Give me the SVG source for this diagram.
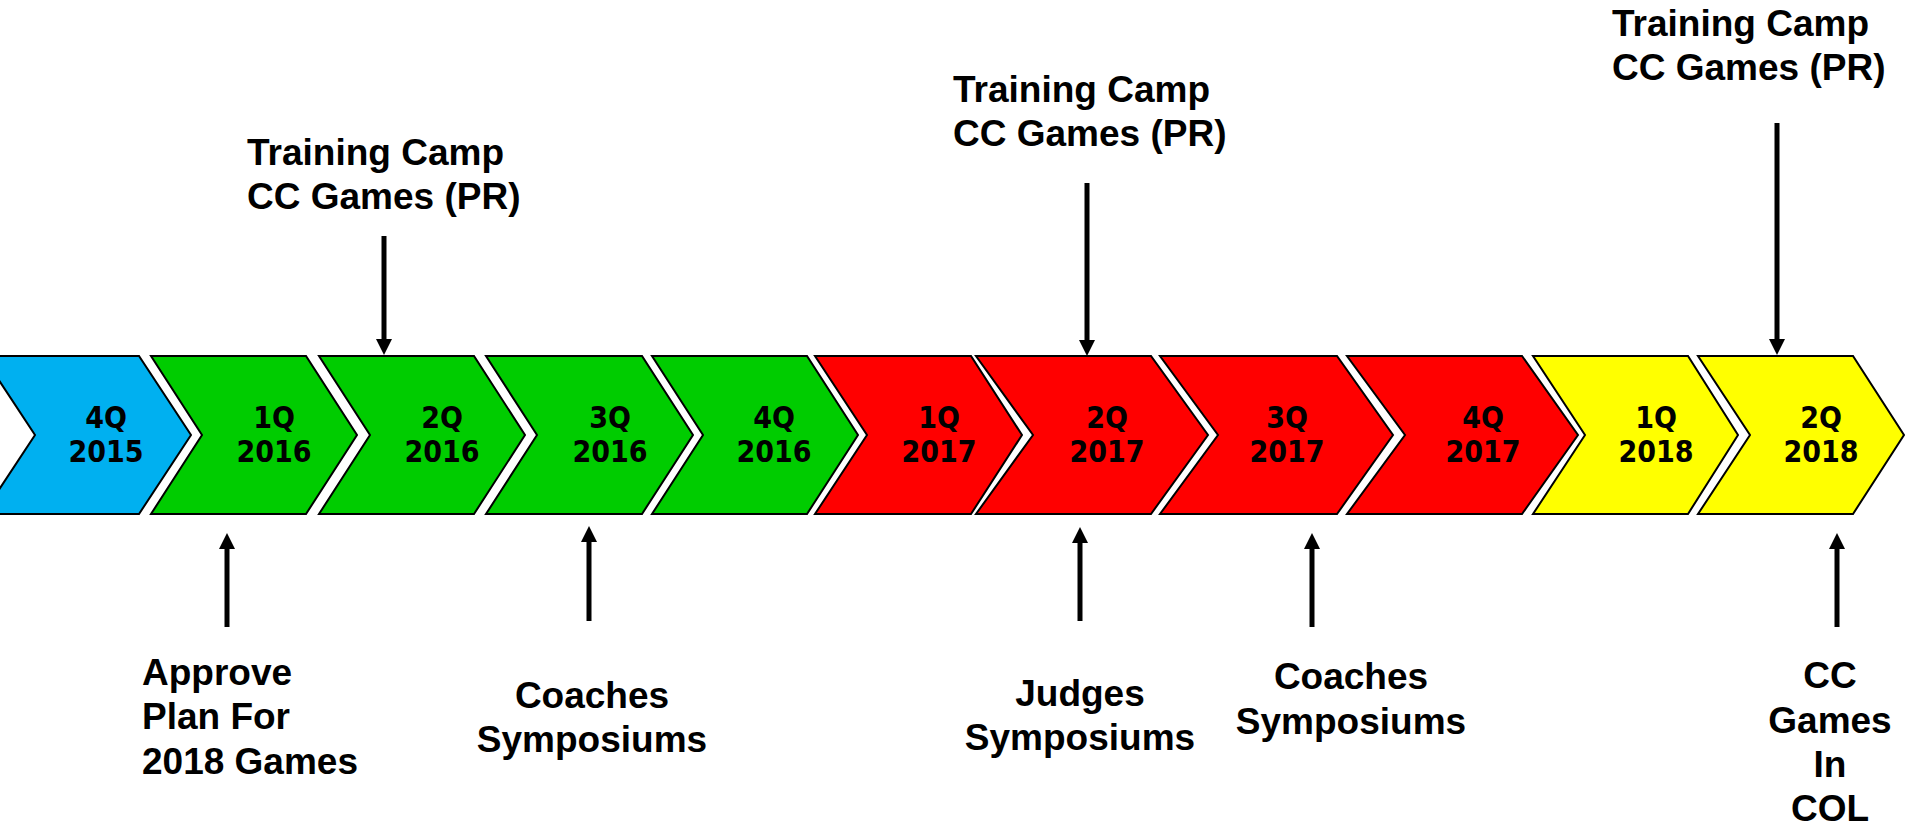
<svg xmlns="http://www.w3.org/2000/svg" width="1911" height="829" viewBox="0 0 1911 829">
<style>
.chev{stroke:#000;stroke-width:2;stroke-linejoin:miter}
.blue{fill:#00B0F0}.green{fill:#00CC00}.red{fill:#FF0000}.yellow{fill:#FFFF00}
.q{font-family:'DejaVu Sans Condensed','DejaVu Sans',sans-serif;font-stretch:condensed;font-weight:bold;font-size:30px;fill:#000;text-anchor:middle}
.lbl{font-family:'Liberation Sans',Arial,sans-serif;font-weight:bold;font-size:37px;fill:#000}
.mid{text-anchor:middle}
.arr{stroke:#000;stroke-width:5;fill:none;marker-end:url(#ah)}
</style>
<defs>
<marker id="ah" markerUnits="userSpaceOnUse" markerWidth="16" markerHeight="16" refX="6" refY="8" orient="auto">
<path d="M0,0 L16,8 L0,16 Z" fill="#000"/>
</marker>
</defs>
<rect width="1911" height="829" fill="#fff"/>
<g id="q4-2015"><polygon class="chev blue" points="-17,356 139,356 191,435 139,514 -17,514 35,435"/><text class="q" x="106" y="428">4Q</text><text class="q" x="106" y="462">2015</text></g>
<g id="q1-2016"><polygon class="chev green" points="151,356 306,356 357,435 306,514 151,514 202,435"/><text class="q" x="274" y="428">1Q</text><text class="q" x="274" y="462">2016</text></g>
<g id="q2-2016"><polygon class="chev green" points="319,356 474,356 525,435 474,514 319,514 370,435"/><text class="q" x="442" y="428">2Q</text><text class="q" x="442" y="462">2016</text></g>
<g id="q3-2016"><polygon class="chev green" points="486,356 642,356 693,435 642,514 486,514 537,435"/><text class="q" x="610" y="428">3Q</text><text class="q" x="610" y="462">2016</text></g>
<g id="q4-2016"><polygon class="chev green" points="652,356 807,356 858,435 807,514 652,514 703,435"/><text class="q" x="774" y="428">4Q</text><text class="q" x="774" y="462">2016</text></g>
<g id="q1-2017"><polygon class="chev red" points="815,356 971,356 1022,435 971,514 815,514 867,435"/><text class="q" x="939" y="428">1Q</text><text class="q" x="939" y="462">2017</text></g>
<g id="q2-2017"><polygon class="chev red" points="976,356 1151,356 1208,435 1151,514 976,514 1033,435"/><text class="q" x="1107" y="428">2Q</text><text class="q" x="1107" y="462">2017</text></g>
<g id="q3-2017"><polygon class="chev red" points="1160,356 1337,356 1393,435 1337,514 1160,514 1218,435"/><text class="q" x="1287" y="428">3Q</text><text class="q" x="1287" y="462">2017</text></g>
<g id="q4-2017"><polygon class="chev red" points="1347,356 1522,356 1578,435 1522,514 1347,514 1405,435"/><text class="q" x="1483" y="428">4Q</text><text class="q" x="1483" y="462">2017</text></g>
<g id="q1-2018"><polygon class="chev yellow" points="1533,356 1688,356 1738,435 1688,514 1533,514 1585,435"/><text class="q" x="1656" y="428">1Q</text><text class="q" x="1656" y="462">2018</text></g>
<g id="q2-2018"><polygon class="chev yellow" points="1698,356 1853,356 1904,435 1853,514 1698,514 1750,435"/><text class="q" x="1821" y="428">2Q</text><text class="q" x="1821" y="462">2018</text></g>

<g id="label-camp-2016"><text class="lbl" x="247" y="165">Training Camp</text><text class="lbl" x="247" y="209">CC Games (PR)</text></g>
<g id="label-camp-2017"><text class="lbl" x="953" y="102">Training Camp</text><text class="lbl" x="953" y="146">CC Games (PR)</text></g>
<g id="label-camp-2018"><text class="lbl" x="1612" y="36">Training Camp</text><text class="lbl" x="1612" y="80">CC Games (PR)</text></g>
<g id="label-approve"><text class="lbl" x="142" y="685">Approve</text><text class="lbl" x="142" y="729">Plan For</text><text class="lbl" x="142" y="774">2018 Games</text></g>
<g id="label-coaches-2016"><text class="lbl mid" x="592" y="708">Coaches</text><text class="lbl mid" x="592" y="752">Symposiums</text></g>
<g id="label-judges"><text class="lbl mid" x="1080" y="706">Judges</text><text class="lbl mid" x="1080" y="750">Symposiums</text></g>
<g id="label-coaches-2017"><text class="lbl mid" x="1351" y="689">Coaches</text><text class="lbl mid" x="1351" y="734">Symposiums</text></g>
<g id="label-col"><text class="lbl mid" x="1830" y="688">CC</text><text class="lbl mid" x="1830" y="733">Games</text><text class="lbl mid" x="1830" y="777">In</text><text class="lbl mid" x="1830" y="821">COL</text></g>

<g id="connectors">
<line class="arr" x1="384" y1="236" x2="384" y2="345"/>
<line class="arr" x1="1087" y1="183" x2="1087" y2="346"/>
<line class="arr" x1="1777" y1="123" x2="1777" y2="345"/>
<line class="arr" x1="227" y1="627" x2="227" y2="543"/>
<line class="arr" x1="589" y1="621" x2="589" y2="536"/>
<line class="arr" x1="1080" y1="621" x2="1080" y2="537"/>
<line class="arr" x1="1312" y1="627" x2="1312" y2="543"/>
<line class="arr" x1="1837" y1="627" x2="1837" y2="543"/>
</g>
</svg>
